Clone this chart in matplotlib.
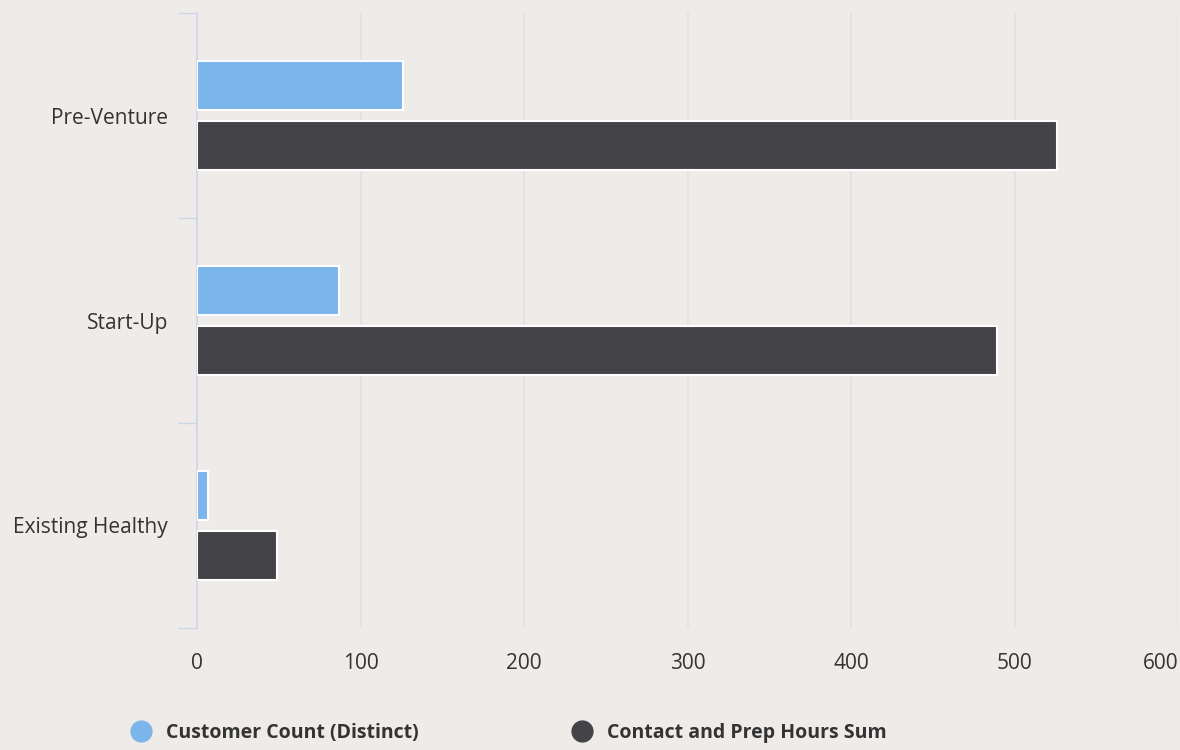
import numpy as np
import matplotlib
matplotlib.use("Agg")
import matplotlib.pyplot as plt
from matplotlib.lines import Line2D

# data
categories = ["Pre-Venture", "Start-Up", "Existing Healthy"]
customer_count = [126, 87, 7]
contact_hours = [526, 489, 49]
series_names = ["Customer Count (Distinct)", "Contact and Prep Hours Sum"]
x_ticks = [0, 100, 200, 300, 400, 500, 600]

bg = "#efebe8"
blue = "#7cb5ec"
dark = "#434348"
axis_col = "#ccd6eb"
grid_col = "#e3e1e4"

plt.rcParams["font.family"] = ["Open Sans", "DejaVu Sans"]

fig = plt.figure(figsize=(11.8, 7.5), dpi=100, facecolor=bg)
ax = fig.add_axes([197 / 1180, 122 / 750, 981 / 1180, 615 / 750])
ax.set_facecolor(bg)

y = np.arange(len(categories))
h = 0.24
off = 0.148
ax.barh(y - off, customer_count, height=h, color=blue, edgecolor="white", linewidth=1.5, zorder=3)
ax.barh(y + off, contact_hours, height=h, color=dark, edgecolor="white", linewidth=1.5, zorder=3)

ax.set_xlim(0, 600)
ax.set_ylim(len(categories) - 0.5, -0.5)

ax.set_xticks(x_ticks)
ax.set_xticklabels([str(t) for t in x_ticks])
ax.get_xticklabels()[-1].set_horizontalalignment("right")
ax.set_yticks(y)
ax.set_yticklabels(categories)
ax.tick_params(axis="x", length=0, pad=18, labelsize=15, labelcolor="#333333")
ax.tick_params(axis="y", which="major", length=0, pad=21, labelsize=15, labelcolor="#333333")
ax.set_yticks(np.arange(-0.5, len(categories)), minor=True)
ax.tick_params(axis="y", which="minor", length=14, width=1, color=axis_col)

ax.grid(axis="x", color=grid_col, linewidth=1.2, zorder=0)
for s in ["top", "right", "bottom"]:
    ax.spines[s].set_visible(False)
ax.spines["left"].set_color(axis_col)
ax.spines["left"].set_linewidth(1.2)

handles = [
    Line2D([], [], marker="o", linestyle="none", markersize=15, markerfacecolor=blue, markeredgecolor=blue),
    Line2D([], [], marker="o", linestyle="none", markersize=15, markerfacecolor=dark, markeredgecolor=dark),
]
fig.legend(handles, series_names, loc="center left", bbox_to_anchor=(104 / 1180, 1 - 733 / 750),
           ncol=2, frameon=False, handletextpad=0.3, columnspacing=7.4,
           prop={"weight": "bold", "size": 14}, labelcolor="#333333")

fig.savefig("out.png", dpi=100, facecolor=bg)
